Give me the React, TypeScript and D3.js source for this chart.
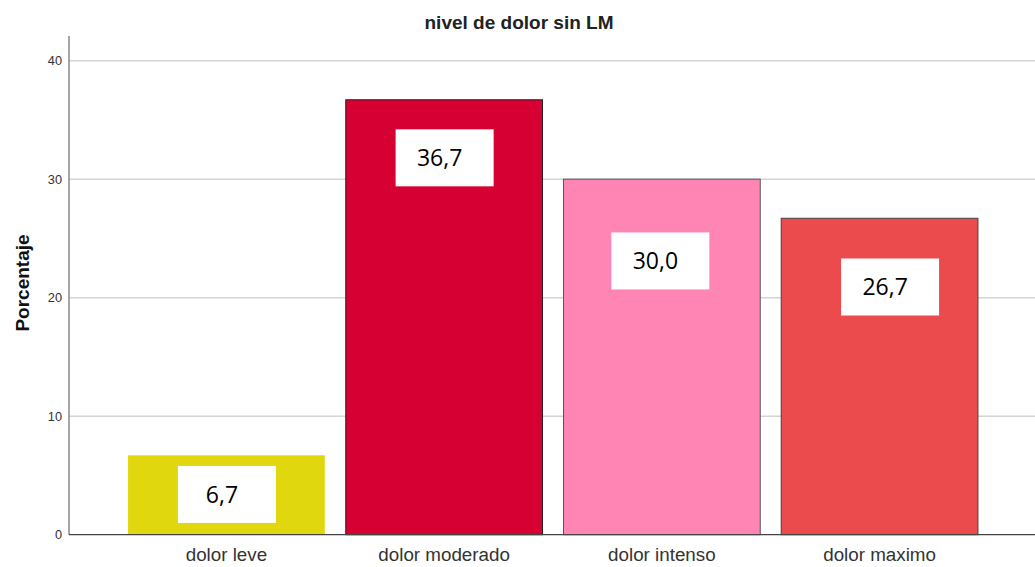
import React from "react";
import * as d3 from "d3";

const categories = ["dolor leve", "dolor moderado", "dolor intenso", "dolor maximo"];
const values = [6.7, 36.7, 30.0, 26.7];
const valueLabels = ["6,7", "36,7", "30,0", "26,7"];
// vertical centre of each value-label box, in data units (as placed in the original)
const labelAt = [3.4, 31.8, 23.1, 20.9];
const yTicks = [0, 10, 20, 30, 40];
const title = "nivel de dolor sin LM";
const yTitle = "Porcentaje";

const colors = ["#e1d70f", "#d70032", "#ff85b5", "#eb4b4d"];
const strokes = ["none", "#222", "#555", "#444"];
const labelDx = [0.5, 0.5, -1.5, 10.5];

const W = 1035;
const H = 567;

export default function App() {
  const x = d3
    .scaleBand<string>()
    .domain(categories)
    .range([71, 1035])
    .paddingInner(0.0963)
    .paddingOuter(0.262);
  const y = d3.scaleLinear().domain([0, 42.08]).range([534.7, 36]);
  const boxW = 98;
  const boxH = 57;
  const x0 = 69;

  return (
    <div style={{ position: "absolute", left: 0, top: 0 }}>
      <svg width={W} height={H} style={{ display: "block", background: "#fff" }}>
        {yTicks.slice(1).map((t) => (
          <line key={t} x1={x0} x2={W} y1={y(t)} y2={y(t)} stroke="#d4d4d4" strokeWidth={1.5} />
        ))}
        {yTicks.map((t) => (
          <text
            key={"l" + t}
            x={62}
            y={y(t)}
            dy="0.35em"
            textAnchor="end"
            fontFamily="Liberation Sans, Arial, sans-serif"
            fontSize={12.8}
            fill="#333"
          >
            {t}
          </text>
        ))}
        {categories.map((c, i) => (
          <rect
            key={c}
            x={x(c)!}
            y={y(values[i])}
            width={x.bandwidth()}
            height={y(0) - y(values[i])}
            fill={colors[i]}
            stroke={strokes[i]}
            strokeWidth={1}
          />
        ))}
        <line x1={x0} x2={x0} y1={y(42.08)} y2={y(0)} stroke="#888" strokeWidth={1.5} />
        <line x1={x0} x2={W} y1={y(0)} y2={y(0)} stroke="#444" strokeWidth={1.2} />
        {categories.map((c, i) => {
          const cx = x(c)! + x.bandwidth() / 2 + labelDx[i];
          const cy = y(labelAt[i]);
          return (
            <g key={"v" + c}>
              <rect x={cx - boxW / 2} y={cy - boxH / 2} width={boxW} height={boxH} fill="#fff" />
              <text
                x={cx - 5}
                y={cy}
                dy="0.36em"
                textAnchor="middle"
                fontFamily="Open Sans, sans-serif"
                fontSize={23}
                fill="#000"
              >
                {valueLabels[i]}
              </text>
            </g>
          );
        })}
        {categories.map((c) => (
          <text
            key={"x" + c}
            x={x(c)! + x.bandwidth() / 2}
            y={561}
            textAnchor="middle"
            fontFamily="Liberation Sans, Arial, sans-serif"
            fontSize={18.8}
            fill="#333"
          >
            {c}
          </text>
        ))}
        <text
          x={519}
          y={29}
          textAnchor="middle"
          fontFamily="Liberation Sans, Arial, sans-serif"
          fontWeight="bold"
          fontSize={19}
          fill="#222"
        >
          {title}
        </text>
        <text
          transform={`translate(29,283) rotate(-90)`}
          textAnchor="middle"
          fontFamily="Liberation Sans, Arial, sans-serif"
          fontWeight="bold"
          fontSize={19}
          fill="#111"
        >
          {yTitle}
        </text>
      </svg>
    </div>
  );
}
